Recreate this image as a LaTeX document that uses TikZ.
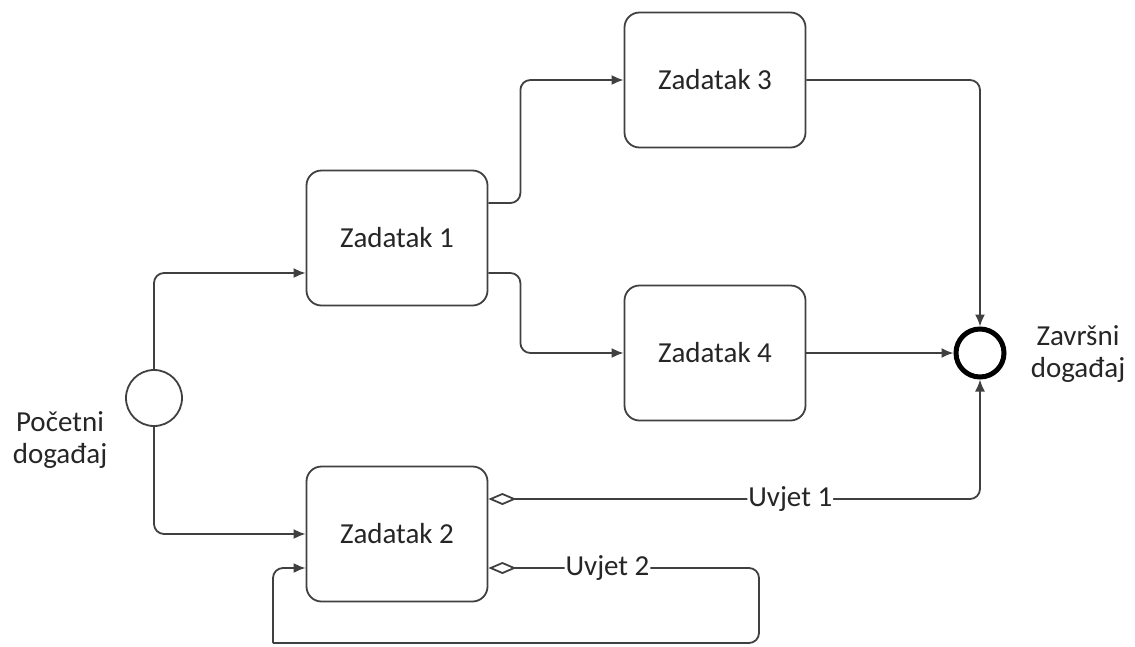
\documentclass[tikz,border=0pt]{standalone}
\usepackage{fontspec}
\setmainfont{Carlito}
\usetikzlibrary{arrows.meta}
\begin{document}
\begin{tikzpicture}[x=1pt,y=-1pt,
  every node/.style={font=\fontsize{29}{32}\selectfont, text=black!85},
  task/.style={draw=black!75, line width=1.8pt, rounded corners=15pt, minimum width=181pt, minimum height=135pt, fill=white},
  conn/.style={draw=black!75, line width=1.8pt, rounded corners=10pt},
  arr/.style={conn, -{Latex[length=12pt,width=10pt]}},
  cond/.style={conn, {Diamond[open,length=28pt,width=12pt]}-},
  condarr/.style={conn, {Diamond[open,length=28pt,width=12pt]}-{Latex[length=12pt,width=10pt]}},
  lbl/.style={fill=white, inner sep=1pt}]
\useasboundingbox (0,0) rectangle (1135,646);
\node[task] (z3) at (715,80) {Zadatak 3};
\node[task] (z1) at (397,238) {Zadatak 1};
\node[task] (z4) at (715,353) {Zadatak 4};
\node[task] (z2) at (397,534) {Zadatak 2};
\node[circle, draw=black!75, line width=1.8pt, minimum size=56pt, inner sep=0pt] (s) at (154,398) {};
\node[circle, draw=black, line width=5pt, minimum size=48pt, inner sep=0pt] (e) at (980,353) {};
\node[align=center] (sl) at (60,440) {Početni\\događaj};
\node[align=center] (el) at (1078,354) {Završni\\događaj};
\coordinate (l1) at (759,643);
\coordinate (l2) at (273,643);
\draw[arr] (s.north) |- ([yshift=-35pt]z1.west);
\draw[arr] (s.south) |- (z2.west);
\draw[arr] ([yshift=35pt]z1.east) -- ++(32,0) |- (z3.west);
\draw[arr] ([yshift=-35pt]z1.east) -- ++(32,0) |- (z4.west);
\draw[arr] (z3.east) -| (e.north);
\draw[arr] (z4.east) -- (e.west);
\draw[condarr] ([yshift=35pt]z2.east) -| node[lbl, pos=0.307] {Uvjet 1} (e.south);
\draw[cond] ([yshift=-34pt]z2.east) -| node[lbl, pos=0.22] {Uvjet 2} (l1) -- (l2);
\draw[arr] (l2) |- ([yshift=-34pt]z2.west);
\end{tikzpicture}
\end{document}
